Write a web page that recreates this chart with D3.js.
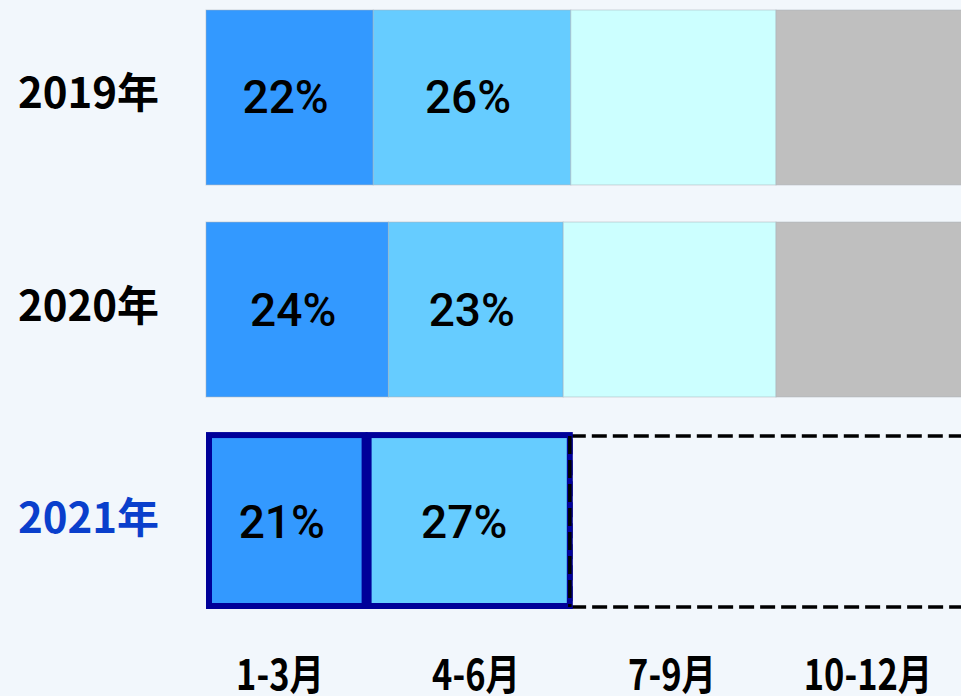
<!DOCTYPE html>
<html>
<head>
<meta charset="utf-8">
<script src="https://cdn.jsdelivr.net/npm/d3@7"></script>
<style>
  html, body { margin: 0; padding: 0; background: #f2f7fc; overflow: hidden; }
  svg { display: block; }
</style>
</head>
<body>
<svg id="chart" width="961" height="696"></svg>
<script>
// data
const years = ['2019年', '2020年', '2021年']
const quarters = ['1-3月', '4-6月', '7-9月', '10-12月']
const q1 = [22, 24, 21]
const q2 = [26, 23, 27]
const q3 = [27, 28, 0]
const q4 = [25, 25, 0]
const colors = ['#3399ff', '#66ccff', '#ccffff', '#bfbfbf']

const svg = d3.select('#chart')
const series = [q1, q2, q3, q4]

const rows = years.map(function (y, i) {
	const r = {year: y}
	quarters.forEach(function (q, j) { r[q] = series[j][i] })
	return r
})

const stacked = d3.stack().keys(quarters)(rows)

const x = d3.scaleLinear().domain([0, 100]).range([206, 966])
const y = d3.scaleBand().domain(years).range([10, 609]).paddingInner(0.175)
const xq = d3.scaleBand().domain(quarters).range([182, 966])

const current = years[years.length - 1]

// plain bars (past years)
stacked.forEach(function (s, j) {
	svg.append('g')
		.selectAll('rect')
		.data(s.filter(function (d) { return d.data.year !== current && d[1] > d[0] }))
		.enter()
		.append('rect')
		.attr('x', function (d) { return x(d[0]) })
		.attr('y', function (d) { return y(d.data.year) })
		.attr('width', function (d) { return x(d[1]) - x(d[0]) })
		.attr('height', y.bandwidth())
		.attr('fill', colors[j])
		.attr('stroke', '#a9b0b8')
		.attr('stroke-opacity', 0.5)
		.attr('stroke-width', 1)
})

// current year: dashed box for the quarters still to come
const done = d3.sum(series, function (s) { return s[years.length - 1] })
svg.append('rect')
	.attr('x', x(done))
	.attr('y', y(current) + 2)
	.attr('width', x(100) - x(done) + 10)
	.attr('height', y.bandwidth() - 4)
	.attr('fill', 'none')
	.attr('stroke', '#000')
	.attr('stroke-width', 3.5)
	.attr('stroke-dasharray', '15,6')

// current year: quarters already reported, thick dark frame
stacked.forEach(function (s, j) {
	svg.append('g')
		.selectAll('rect')
		.data(s.filter(function (d) { return d.data.year === current && d[1] > d[0] }))
		.enter()
		.append('rect')
		.attr('x', function (d) { return x(d[0]) + 3 })
		.attr('y', function (d) { return y(d.data.year) + 1 })
		.attr('width', function (d) { return x(d[1]) - x(d[0]) - 4 })
		.attr('height', y.bandwidth() - 4)
		.attr('fill', colors[j])
		.attr('stroke', '#000099')
		.attr('stroke-width', 6)
})

// dashed edge drawn over the frame
svg.append('line')
	.attr('x1', x(done) - 1).attr('x2', x(done) - 1)
	.attr('y1', y(current) + 2).attr('y2', y(current) + y.bandwidth() - 2)
	.attr('stroke', '#000')
	.attr('stroke-width', 3.5)
	.attr('stroke-dasharray', '18,6')

// percent labels (first two quarters)
stacked.slice(0, 2).forEach(function (s) {
	svg.append('g')
		.selectAll('text')
		.data(s.filter(function (d) { return d[1] > d[0] }))
		.enter()
		.append('text')
		.attr('x', function (d) { return (x(d[0]) + x(d[1])) / 2 - 4 })
		.attr('y', function (d) { return y(d.data.year) + y.bandwidth() / 2 + 16 })
		.attr('text-anchor', 'middle')
		.attr('font-family', 'Roboto, "Noto Sans", sans-serif')
		.attr('font-weight', 500)
		.attr('font-size', 46)
		.attr('fill', '#000')
		.text(function (d) { return (d[1] - d[0]) + '%' })
})

// year labels
svg.append('g')
	.selectAll('text')
	.data(years)
	.enter()
	.append('text')
	.attr('x', 18)
	.attr('y', function (d) { return y(d) + y.bandwidth() / 2 + 11 })
	.attr('font-family', '"Noto Sans CJK JP", sans-serif')
	.attr('font-weight', 700)
	.attr('font-size', 42)
	.attr('fill', function (d) { return d === current ? '#0a3fcc' : '#000' })
	.text(function (d) { return d })

// quarter labels along the bottom
svg.append('g')
	.selectAll('text')
	.data(quarters)
	.enter()
	.append('text')
	.attr('transform', function (d) { return 'translate(' + (xq(d) + xq.bandwidth() / 2) + ',690) scale(0.82,1)' })
	.attr('text-anchor', 'middle')
	.attr('font-family', '"Noto Sans CJK JP", sans-serif')
	.attr('font-weight', 700)
	.attr('font-size', 42)
	.attr('fill', '#000')
	.text(function (d) { return d })
</script>
</body>
</html>
